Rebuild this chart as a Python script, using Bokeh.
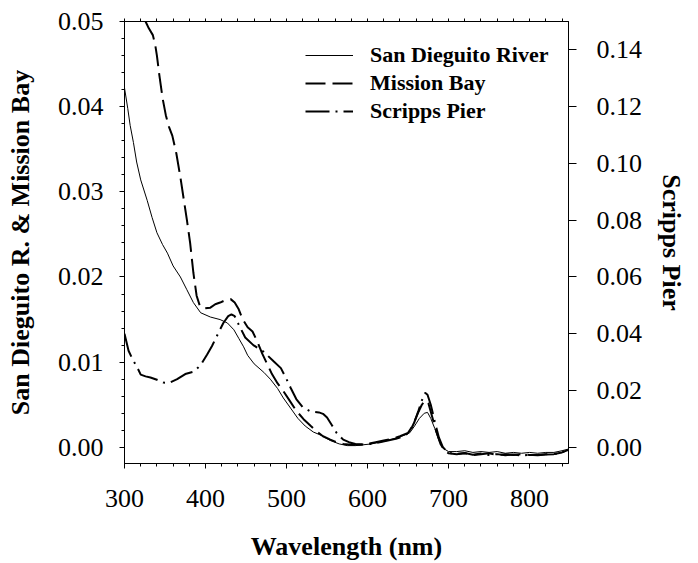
from bokeh.plotting import figure
from bokeh.models import (Range1d, LinearAxis, FixedTicker, NumeralTickFormatter,
                          Legend, LegendItem)
from bokeh.embed import file_html
from bokeh.resources import INLINE

# ---- data ----
wl_sd = [300, 304, 307, 311, 315, 320, 328, 334, 340, 347, 353, 360, 369, 377, 385, 394,
         406, 418, 427, 435, 441, 447, 452, 460, 472, 480, 489, 496, 505, 514, 523, 533,
         543, 554, 565, 575, 585, 595, 605, 615, 625, 635, 645, 652, 658, 664, 670, 674,
         678, 683, 688, 693, 700, 710, 720, 730, 740, 750, 760, 770, 780, 790, 800, 810,
         820, 830, 840, 848]
abs_sd = [0.0422, 0.0398, 0.0378, 0.0358, 0.0335, 0.0314, 0.0290, 0.0270, 0.0252, 0.0238,
          0.0228, 0.0213, 0.0200, 0.0185, 0.0170, 0.0158, 0.0153, 0.0150, 0.0146, 0.0138,
          0.0128, 0.0118, 0.0108, 0.0098, 0.0088, 0.0080, 0.0069, 0.0058, 0.0046, 0.0034,
          0.0025, 0.0018, 0.0014, 0.0008, 0.0004, 0.0002, 0.0002, 0.0003, 0.0004, 0.0006,
          0.0008, 0.0011, 0.0014, 0.0017, 0.0025, 0.0034, 0.0040, 0.0041, 0.0034, 0.0022,
          0.0008, -0.0001, -0.0005, -0.0005, -0.0004, -0.0006, -0.0005, -0.0006, -0.0005,
          -0.0007, -0.0006, -0.0007, -0.0006, -0.0007, -0.0006, -0.0006, -0.0004, -0.0002]

wl_mb = [326, 330, 335, 338, 340, 343, 347, 351, 355, 359, 364, 369, 373, 377, 381, 385,
         389, 393, 398, 406, 412, 418, 425, 431, 436, 441, 446, 452, 458, 464, 470, 476,
         482, 489, 496, 503, 512, 521, 530, 538, 545, 554, 562, 570, 580, 590, 600, 610,
         620, 630, 640, 650, 656, 662, 667, 671, 675, 680, 685, 690, 695, 700, 710, 720,
         730, 740, 750, 760, 770, 780, 790, 800, 810, 820, 830, 840, 848]
abs_mb = [0.0500, 0.0492, 0.0484, 0.0472, 0.0460, 0.0437, 0.0410, 0.0390, 0.0376, 0.0366,
          0.0345, 0.0317, 0.0292, 0.0267, 0.0240, 0.0205, 0.0178, 0.0166, 0.0163, 0.0164,
          0.0168, 0.0170, 0.0173, 0.0174, 0.0170, 0.0162, 0.0150, 0.0141, 0.0136, 0.0124,
          0.0110, 0.0098, 0.0086, 0.0075, 0.0066, 0.0056, 0.0043, 0.0033, 0.0025, 0.0018,
          0.0013, 0.0009, 0.0006, 0.0004, 0.0003, 0.0003, 0.0004, 0.0006, 0.0008, 0.0010,
          0.0013, 0.0017, 0.0026, 0.0040, 0.0050, 0.0055, 0.0052, 0.0035, 0.0018, 0.0004,
          -0.0004, -0.0007, -0.0008, -0.0007, -0.0009, -0.0008, -0.0007, -0.0009, -0.0008,
          -0.0009, -0.0008, -0.0009, -0.0009, -0.0008, -0.0008, -0.0006, -0.0003]

wl_sp = [300, 305, 310, 316, 320, 326, 332, 340, 348, 355, 365, 375, 386, 394, 402, 408,
         414, 422, 428, 432, 436, 441, 449, 459, 472, 484, 493, 499, 505, 512, 520, 530,
         540, 545, 550, 556, 562, 570, 577, 585, 595, 605, 615, 625, 635, 645, 652, 658,
         663, 667, 671, 674, 678, 683, 688, 693, 700, 710, 720, 730, 740, 750, 760, 770,
         780, 790, 800, 810, 820, 830, 840, 848]
abs_sp = [0.0400, 0.0340, 0.0310, 0.0280, 0.0256, 0.0250, 0.0246, 0.0238, 0.0228, 0.0227,
          0.0240, 0.0258, 0.0267, 0.0290, 0.0327, 0.0357, 0.0392, 0.0438, 0.0462, 0.0468,
          0.0462, 0.0432, 0.0387, 0.0360, 0.0336, 0.0303, 0.0279, 0.0246, 0.0210, 0.0170,
          0.0141, 0.0126, 0.0123, 0.0118, 0.0105, 0.0078, 0.0050, 0.0027, 0.0018, 0.0012,
          0.0010, 0.0012, 0.0018, 0.0024, 0.0030, 0.0040, 0.0054, 0.0090, 0.0130, 0.0165,
          0.0192, 0.0185, 0.0150, 0.0090, 0.0035, 0.0000, -0.0020, -0.0023, -0.0020, -0.0026,
          -0.0022, -0.0027, -0.0024, -0.0028, -0.0025, -0.0029, -0.0026, -0.0028, -0.0025,
          -0.0024, -0.0018, -0.0006]

x_ticks = [300, 400, 500, 600, 700, 800]
x_minor = list(range(300, 850, 20))
left_ticks = [0.00, 0.01, 0.02, 0.03, 0.04, 0.05]
left_minor = [round(0.002 * i, 3) for i in range(0, 26)]
right_ticks = [0.00, 0.02, 0.04, 0.06, 0.08, 0.10, 0.12, 0.14]
series_names = ["San Dieguito River", "Mission Bay", "Scripps Pier"]

FONT = "Liberation Serif"

p = figure(width=698, height=563, x_range=Range1d(300, 848), y_range=Range1d(-0.0019, 0.05),
           output_backend="svg", toolbar_location=None,
           min_border_left=124, min_border_right=130, min_border_top=21, min_border_bottom=99)
p.grid.visible = False
p.outline_line_color = "black"
p.outline_line_width = 1
p.background_fill_color = "white"
p.border_fill_color = "white"

p.extra_y_ranges = {"right": Range1d(-0.0057, 0.150)}

# bottom axis
xa = p.below[0]
xa.ticker = FixedTicker(ticks=x_ticks, minor_ticks=x_minor)
xa.axis_label = "Wavelength (nm)"

# left axis
ya = p.left[0]
ya.ticker = FixedTicker(ticks=left_ticks, minor_ticks=left_minor)
ya.formatter = NumeralTickFormatter(format="0.00")
ya.axis_label = "San Dieguito R. & Mission Bay"

# right axis
ra = LinearAxis(y_range_name="right", axis_label="Scripps Pier",
                ticker=FixedTicker(ticks=right_ticks, minor_ticks=[]),
                formatter=NumeralTickFormatter(format="0.00"))
p.add_layout(ra, "right")

for ax in (xa, ya, ra):
    ax.major_label_text_font = FONT
    ax.major_label_text_font_size = "26px"
    ax.major_label_text_color = "black"
    ax.axis_label_text_font = FONT
    ax.axis_label_text_font_size = "26px"
    ax.axis_label_text_font_style = "bold"
    ax.axis_label_text_color = "black"
    ax.axis_line_color = "black"
    ax.major_tick_line_color = "black"
    ax.minor_tick_line_color = "black"
    ax.major_tick_in = 0
    ax.minor_tick_in = 0
    ax.major_tick_out = 5
    ax.minor_tick_out = 3

xa.major_label_standoff = 21
xa.axis_label_standoff = 22
ya.major_label_standoff = 16
ya.axis_label_standoff = 20
ra.major_tick_out = 8
ra.major_label_standoff = 20
ra.axis_label_standoff = 12

# top axis: tick marks only (no labels)
ta = LinearAxis(ticker=FixedTicker(ticks=[], minor_ticks=x_minor),
                major_label_text_font_size="0px", major_label_standoff=0,
                major_tick_in=0, minor_tick_in=0, major_tick_out=0, minor_tick_out=3,
                axis_line_color="black", major_tick_line_color="black",
                minor_tick_line_color="black")
p.add_layout(ta, "above")

r1 = p.line(wl_sd, abs_sd, line_color="black", line_width=1)
r2 = p.line(wl_mb, abs_mb, line_color="black", line_width=2, line_dash="20 7")
r3 = p.line(wl_sp, abs_sp, line_color="black", line_width=2, line_dash="24 6 2 6",
            y_range_name="right")

legend = Legend(items=[LegendItem(label=series_names[0], renderers=[r1]),
                       LegendItem(label=series_names[1], renderers=[r2]),
                       LegendItem(label=series_names[2], renderers=[r3])],
                location=(181, 339), border_line_color=None, background_fill_alpha=0,
                padding=0, margin=0, spacing=2, glyph_width=48, glyph_height=22,
                label_height=22, label_standoff=17,
                label_text_font=FONT, label_text_font_size="22px",
                label_text_font_style="bold", label_text_color="black")
p.add_layout(legend, "center")

open("out.html", "w").write(file_html(p, INLINE))
